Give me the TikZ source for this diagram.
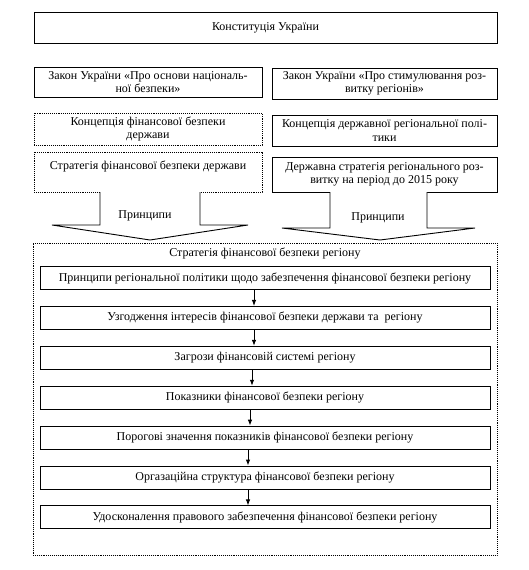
\documentclass[tikz,border=0pt]{standalone}
\usepackage{fontspec}
\setmainfont{Liberation Serif}
\usetikzlibrary{positioning,arrows.meta}

\begin{document}
\begin{tikzpicture}[
    x=1pt, y=-1pt,
    node distance=16pt,
    txt/.style={font=\fontsize{12}{13.5}\selectfont},
    box/.style={
        draw,
        line width=0.9pt,
        align=center,
        inner sep=2pt,
        txt
    },
    topbox/.style={box, minimum width=228pt},
    dotbox/.style={topbox, densely dotted},
    stagebox/.style={box, minimum width=450pt, minimum height=23pt},
    line/.style={-{Latex[length=6pt,width=4.5pt]}, line width=0.9pt},
    bigarrow/.style={draw, line width=0.9pt, fill=white}
]

\useasboundingbox (0,0) rectangle (528,570);

\node[box, minimum width=463pt, minimum height=31pt] (konst) at (265.5,27.5) {Конституція України};

% state level (left) and regional level (right)
\node[topbox, minimum height=30pt] (lawsec) at (148,82) {Закон України «Про основи національ-\\ної безпеки»};
\node[topbox, minimum width=225pt, minimum height=31pt] (lawreg) at (384.5,83.5) {Закон України «Про стимулювання роз-\\витку регіонів»};
\node[dotbox, minimum height=32pt] (concfin) at (148,129) {Концепція фінансової безпеки\\держави};
\node[topbox, minimum width=225pt, minimum height=31pt] (concreg) at (384.5,130.5) {Концепція державної регіональної полі-\\тики};
\node[dotbox, minimum height=40pt] (stratfin) at (148,172) {Стратегія фінансової безпеки держави\\ \mbox{}};
\node[topbox, minimum width=225pt, minimum height=35pt] (stratreg) at (384.5,174.5) {Державна стратегія регіонального роз-\\витку на період до 2015 року};

% regional strategy frame
\node[draw, densely dotted, line width=0.9pt, minimum width=464pt, minimum height=312pt] (region) at (265,399) {};
\node[txt] (regtitle) at (265,253) {Стратегія фінансової безпеки регіону};

\node[stagebox] (s1) at (265,278) {Принципи регіональної політики щодо забезпечення фінансової безпеки регіону};
\node[stagebox, below=of s1] (s2) {Узгодження інтересів фінансової безпеки держави та \ регіону};
\node[stagebox, below=of s2] (s3) {Загрози фінансовій системі регіону};
\node[stagebox, below=of s3] (s4) {Показники фінансової безпеки регіону};
\node[stagebox, below=of s4] (s5) {Порогові значення показників фінансової безпеки регіону};
\node[stagebox, below=of s5] (s6) {Оргазаційна структура фінансової безпеки регіону};
\node[stagebox, below=of s6] (s7) {Удосконалення правового забезпечення фінансової безпеки регіону};

\draw[line] ([xshift=-11pt]s1.south) -- ([xshift=-11pt]s2.north);
\draw[line] ([xshift=-11pt]s2.south) -- ([xshift=-11pt]s3.north);
\draw[line] ([xshift=-13pt]s3.south) -- ([xshift=-13pt]s4.north);
\draw[line] ([xshift=-15pt]s4.south) -- ([xshift=-15pt]s5.north);
\draw[line] ([xshift=-17pt]s5.south) -- ([xshift=-17pt]s6.north);
\draw[line] ([xshift=-17pt]s6.south) -- ([xshift=-17pt]s7.north);

% principles arrows
\draw[bigarrow] (100,192) -- (100,225) -- (52,225) -- (150,240) -- (248,225) -- (200,225) -- (200,192);
\draw[bigarrow] (330,192) -- (330,228) -- (282,228) -- (380,240) -- (475,228) -- (427,228) -- (427,192);
\node[txt] (princl) at (145,216) {Принципи};
\node[txt] (princr) at (378,218) {Принципи};

\end{tikzpicture}
\end{document}
